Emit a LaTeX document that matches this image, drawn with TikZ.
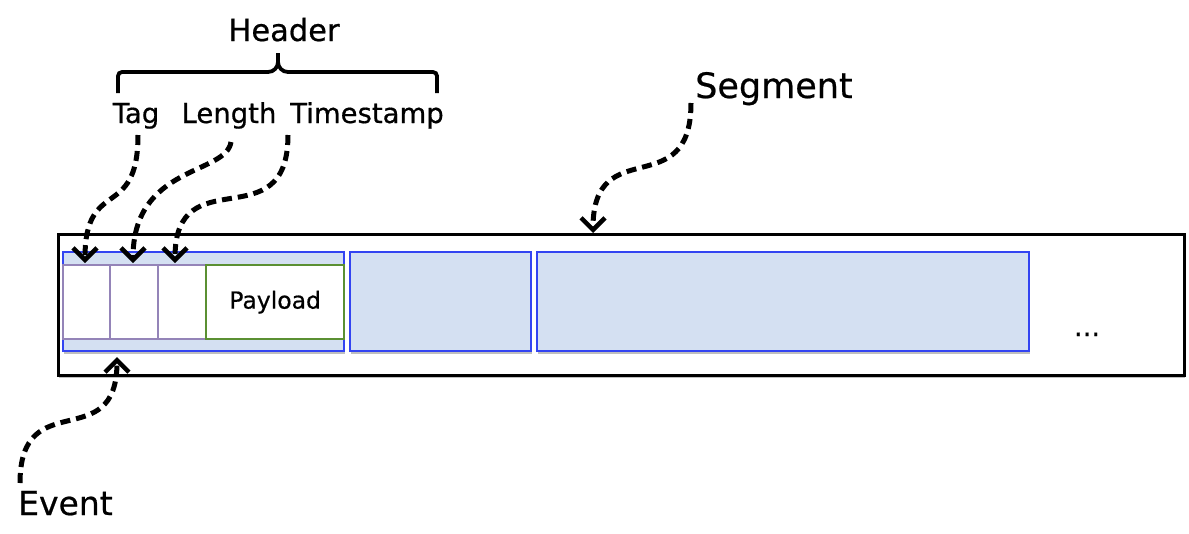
\documentclass[tikz,border=0pt]{standalone}
\usepackage{fontspec}
\setmainfont{DejaVu Sans}[FakeBold=0.6]
\usetikzlibrary{arrows.meta,shadows}
\definecolor{evblue}{HTML}{3344F2}
\definecolor{evfill}{HTML}{D4E0F2}
\definecolor{cellpurple}{HTML}{9484B8}
\definecolor{paygreen}{HTML}{5B9033}
\begin{document}
\begin{tikzpicture}[x=1pt,y=-1pt,
 boxshadow/.style={drop shadow={shadow xshift=1pt,shadow yshift=-2.5pt,opacity=0.25,fill=black}},
 segbox/.style={draw=black,line width=2.6pt,fill=white,anchor=north west,inner sep=0pt,boxshadow},
 evbox/.style={draw=evblue,line width=2.3pt,fill=evfill,anchor=north west,inner sep=0pt,boxshadow},
 cellbox/.style={draw=cellpurple,line width=2.3pt,fill=white,anchor=north west,inner sep=0pt,minimum height=74pt},
 paybox/.style={draw=paygreen,line width=2.3pt,fill=white,anchor=north west,inner sep=0pt,minimum height=74pt,font=\fontsize{23.5}{26}\selectfont},
 lbl/.style={inner sep=0pt,anchor=base,font=\fontsize{27.5}{30}\selectfont},
 pointer/.style={draw=black,line width=5pt,dash pattern=on 10pt off 6pt,-{Straight Barb[length=12pt,width=24pt,line width=4.5pt]}},
 scurve/.style={out=-90,in=90,looseness=1.6}
]
\useasboundingbox (0,0) rectangle (1189,533);
% segment and events
\node[segbox,minimum width=1126pt,minimum height=141pt] (seg) at (57,233) {};
\node[evbox,minimum width=281pt,minimum height=99pt] (ev1) at (62,251) {};
\node[evbox,minimum width=181pt,minimum height=99pt] (ev2) at (349,251) {};
\node[evbox,minimum width=492pt,minimum height=99pt] (ev3) at (536,251) {};
% header cells and payload
\node[cellbox,minimum width=47pt] (cell1) at (62,264) {};
\node[cellbox,minimum width=48pt] (cell2) at (109,264) {};
\node[cellbox,minimum width=48pt] (cell3) at (157,264) {};
\node[paybox,minimum width=138pt] (pay) at (205,264) {Payload};
\node[lbl] (dots) at (1087,336) {...};
% labels
\node[lbl,font=\fontsize{30.5}{33}\selectfont] (hdr) at (284,41) {Header};
\node[lbl] (tag) at (136,123) {Tag};
\node[lbl] (len) at (229,123) {Length};
\node[lbl] (ts) at (367,123) {Timestamp};
\node[inner sep=0pt,anchor=base west,font=\fontsize{35}{38}\selectfont] (segl) at (695,98) {Segment};
\node[inner sep=0pt,anchor=base west,font=\fontsize{33}{36}\selectfont] (evl) at (18,515) {Event};
% brace
\draw[line width=3.8pt] (118,93) [rounded corners=4pt]-- (118,72) [rounded corners=10pt]-- (278,72) [sharp corners]-- (278,53);
\draw[line width=3.8pt] (437,93) [rounded corners=4pt]-- (437,72) [rounded corners=10pt]-- (278,72) [sharp corners]-- (278,53);
% pointer anchors
\coordinate (tagS) at (138,135);
\coordinate (lenS) at (231,142);
\coordinate (tsS) at (288,135);
\coordinate (segS) at (691,103);
\coordinate (evS) at (20,483);
\coordinate (tagE) at (85,263);
\coordinate (lenE) at (133,263);
\coordinate (tsE) at (175,263);
\coordinate (segE) at (593,233);
\coordinate (evE) at (117,357);
% pointers
\draw[pointer] (tagS) to[scurve] (tagE);
\draw[pointer] (lenS) .. controls (226,175) and (133,165) .. (lenE);
\draw[pointer] (tsS) to[scurve] (tsE);
\draw[pointer] (segS) to[scurve] (segE);
\draw[pointer] (evS) to[out=90,in=-90,looseness=1.6] (evE);
\end{tikzpicture}
\end{document}
